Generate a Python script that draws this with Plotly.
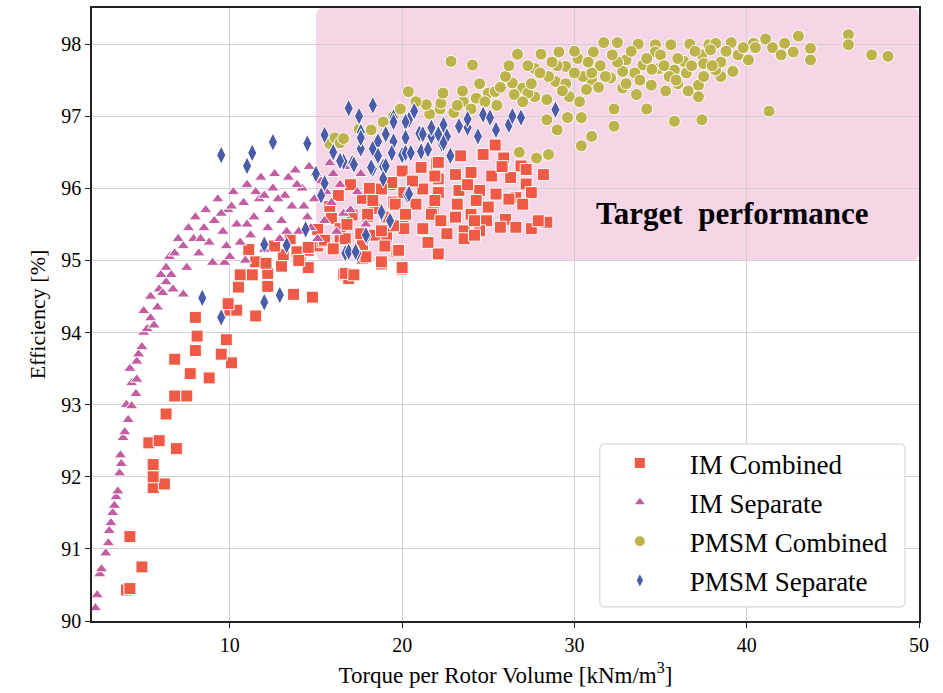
import plotly.graph_objects as go

# ---------------- data (x: torque per rotor volume, y: efficiency %) ----------------
IM_COMBINED = [
    (4.0, 90.43), (4.2, 90.45), (4.9, 90.75), (4.2, 91.17), (5.55, 91.85), (6.2, 91.9), (5.55, 92.0),
    (5.55, 92.17), (5.3, 92.47), (5.9, 92.5), (6.9, 92.39), (6.3, 92.87), (6.8, 93.12), (7.5, 93.12),
    (8.8, 93.37), (6.8, 93.63), (7.7, 93.43), (8.0, 93.75), (8.1, 93.95), (8.0, 94.21), (9.8, 93.9),
    (10.1, 93.58), (9.5, 93.7), (10.0, 94.31), (10.4, 94.31), (11.5, 94.23), (9.9, 94.4), (10.5, 94.63),
    (11.3, 94.8), (12.2, 94.82), (12.2, 94.64), (13.7, 94.53), (14.8, 94.49), (13.0, 94.92), (14.1, 94.99),
    (14.55, 95.14), (11.1, 95.15), (10.6, 94.8), (11.5, 94.98), (12.1, 94.96), (13.1, 95.08), (13.9, 95.12),
    (16.6, 94.8), (16.9, 94.75), (17.7, 95.03), (18.8, 94.95), (20.0, 94.88), (19.7, 95.12), (22.1, 95.08),
    (15.1, 95.2), (15.4, 95.26), (15.1, 95.43), (15.9, 95.58), (16.4, 95.3), (16.4, 95.44), (17.1, 95.63),
    (17.7, 95.22), (17.7, 95.86), (18.0, 95.61), (18.1, 96.0), (18.4, 95.35), (18.4, 95.72), (19.1, 95.33),
    (19.3, 96.05), (19.5, 95.81), (20.05, 95.47), (21.2, 95.43), (21.8, 95.67), (22.0, 96.34), (22.1, 96.13),
    (25.4, 96.6), (23.4, 96.45), (24.7, 96.47), (25.9, 96.42), (26.9, 96.31), (28.2, 96.19), (27.2, 96.26),
    (22.1, 96.36), (21.1, 96.29), (20.0, 96.24), (21.9, 96.17), (23.1, 96.19), (24.0, 96.22), (25.2, 96.17),
    (26.3, 96.15), (27.2, 96.06), (19.4, 96.08), (18.8, 95.99), (20.1, 95.94), (21.2, 95.99), (22.1, 95.94),
    (23.3, 95.97), (24.5, 95.97), (25.45, 95.92), (26.6, 95.87), (27.5, 95.94), (18.3, 95.83), (19.6, 95.78),
    (20.8, 95.78), (21.9, 95.83), (23.2, 95.78), (24.3, 95.83), (25.0, 95.74), (26.2, 95.85), (27.0, 95.78),
    (18.0, 95.64), (19.05, 95.6), (20.2, 95.64), (21.7, 95.64), (22.25, 95.55), (23.1, 95.6), (24.0, 95.64),
    (24.9, 95.55), (26.0, 95.57), (27.5, 95.44), (28.4, 95.53), (26.6, 95.46), (25.7, 95.46), (24.5, 95.41),
    (23.6, 95.41), (22.6, 95.37), (21.2, 95.44), (20.1, 95.44), (19.5, 95.48), (18.8, 95.41), (17.6, 95.37),
    (16.7, 95.3), (15.5, 95.28), (14.55, 95.18), (16.0, 95.16), (17.9, 95.05), (18.8, 94.98), (19.8, 95.14),
    (22.1, 95.09), (20.0, 94.9), (16.7, 94.82), (17.2, 94.8), (14.55, 94.9), (12.6, 95.2), (13.5, 95.3),
    (23.6, 95.3), (24.2, 95.35), (27.9, 95.55), (16.3, 95.9), (17.0, 96.05), (15.8, 95.75), (16.8, 95.5),
    (20.6, 96.1), (23.8, 96.05), (25.8, 96.3), (24.2, 95.55), (21.5, 95.25), (19.0, 95.2), (14.0, 95.0),
]

IM_SEPARATE = [
    (2.2, 90.18), (2.3, 90.36), (2.45, 90.65), (2.55, 90.72), (2.8, 90.94), (2.95, 91.08), (3.0, 91.25),
    (3.1, 91.36), (3.2, 91.5), (3.3, 91.6), (3.4, 91.72), (3.5, 91.8), (3.6, 92.05), (3.7, 92.18),
    (3.65, 92.3), (3.8, 92.54), (3.9, 92.62), (4.1, 92.79), (4.0, 93.0), (4.3, 92.98), (4.55, 93.15),
    (4.3, 93.3), (4.6, 93.35), (4.2, 93.5), (4.6, 93.6), (4.7, 93.7), (4.9, 93.8), (5.0, 94.0),
    (5.2, 94.05), (5.0, 94.3), (5.4, 94.2), (5.4, 94.5), (5.8, 94.35), (5.9, 94.6), (6.1, 94.55),
    (6.3, 94.7), (6.3, 94.9), (6.5, 95.05), (6.8, 95.1), (6.6, 94.8), (6.7, 94.6), (7.3, 94.53),
    (7.0, 95.3), (7.3, 95.2), (7.6, 95.45), (7.9, 95.3), (8.2, 95.1), (8.0, 95.6), (8.5, 95.45),
    (8.6, 95.7), (8.8, 95.25), (9.0, 94.97), (9.1, 95.55), (9.3, 95.85), (9.6, 95.4), (9.7, 94.97),
    (9.9, 95.7), (10.0, 95.05), (10.2, 95.95), (10.4, 95.5), (10.8, 95.8), (10.9, 95.0), (11.0, 96.05),
    (11.2, 95.35), (11.4, 95.6), (11.7, 95.85), (11.8, 96.15), (12.0, 95.15), (12.2, 95.45), (12.3, 95.7),
    (12.5, 96.0), (12.6, 96.2), (12.9, 95.3), (13.0, 95.55), (13.2, 95.9), (13.4, 96.15), (13.6, 95.75),
    (13.8, 96.25), (14.0, 95.4), (14.2, 96.0), (14.5, 95.6), (14.6, 96.3), (14.9, 95.85), (15.1, 95.3),
    (15.3, 96.1), (15.5, 95.55), (15.8, 96.35), (15.9, 95.8), (16.2, 95.4), (16.4, 96.05), (16.6, 95.65),
    (16.9, 96.3), (17.0, 95.7), (17.4, 95.95), (17.6, 96.2), (17.9, 95.5),
    (8.3, 95.3), (9.5, 95.65), (10.6, 95.25), (10.1, 95.75), (11.5, 95.95), (12.8, 95.85), (13.3, 95.4),
    (14.3, 95.75), (15.0, 96.2), (16.0, 96.2), (12.0, 95.9), (11.0, 95.5), (9.8, 95.2), (7.5, 94.9),
    (6.0, 94.8), (5.6, 94.1), (13.9, 96.05), (15.6, 95.95), (14.7, 95.45), (17.2, 96.35),
]

PMSM_COMBINED = [
    (15.8, 96.62), (16.1, 96.7), (16.4, 96.63), (16.6, 96.69), (17.5, 96.82), (18.2, 96.81), (18.9, 96.92),
    (19.5, 97.0), (20.36, 97.34), (21.6, 97.03), (22.2, 97.1), (21.4, 97.16), (22.25, 97.18), (22.37, 97.32),
    (23.55, 97.2), (24.3, 97.25), (25.0, 97.32), (25.4, 97.34), (22.84, 97.76), (24.08, 97.71), (26.7, 97.86),
    (28.06, 97.86), (29.1, 97.89), (31.7, 98.02), (32.5, 98.02), (33.7, 98.0), (34.7, 97.99), (35.6, 97.99),
    (36.7, 98.0), (37.8, 97.99), (38.2, 98.01), (39.1, 98.02), (40.4, 98.01), (41.1, 98.07), (42.2, 98.01),
    (43.0, 98.11), (43.7, 97.94), (45.9, 98.13), (45.9, 97.99), (47.25, 97.85), (48.2, 97.83), (42.7, 97.89),
    (43.7, 97.78), (40.1, 97.78), (39.2, 97.64), (38.5, 97.55), (37.2, 97.43), (37.2, 97.27), (41.3, 97.07),
    (37.4, 96.95), (35.8, 96.93), (34.2, 97.1), (32.3, 96.86), (32.3, 97.1), (31.0, 96.72), (30.4, 96.59),
    (29.6, 96.98), (29.0, 96.81), (28.4, 96.95), (28.5, 96.47), (27.8, 96.42), (30.4, 96.98),
    (26.4, 97.46), (27.0, 97.39), (27.7, 97.27), (27.7, 97.66), (28.9, 97.48), (29.5, 97.69), (30.2, 97.8),
    (31.1, 97.89), (31.0, 97.5), (32.1, 97.53), (32.8, 97.62), (33.0, 97.78), (33.98, 97.71), (34.46, 97.43),
    (34.9, 97.66), (35.8, 97.64), (36.35, 97.76), (37.4, 97.85), (37.5, 97.73), (38.2, 97.64), (39.2, 97.62),
    (36.0, 97.8), (32.8, 97.39), (30.7, 97.37), (29.7, 97.27), (28.4, 97.23), (27.3, 97.32), (37.9, 97.92),
    (34.7, 97.89), (23.0, 97.05), (24.0, 97.1), (25.5, 97.15), (26.5, 97.3), (27.5, 97.45), (28.5, 97.55),
    (29.5, 97.45), (30.5, 97.55), (31.5, 97.7), (32.5, 97.75), (33.5, 97.6), (34.5, 97.65), (35.5, 97.55),
    (36.5, 97.6), (37.5, 97.55), (38.5, 97.75), (39.5, 97.85), (40.5, 97.95), (30.0, 97.9), (31.0, 97.6),
    (33.0, 97.45), (35.0, 97.85), (36.0, 97.45), (28.0, 97.6), (29.0, 97.7), (26.0, 97.55), (27.0, 97.2),
    (24.5, 97.45), (23.5, 97.35), (20.8, 97.2), (19.9, 97.1), (26.8, 96.5),
    (30.0, 97.6), (30.8, 97.75), (31.8, 97.55), (32.2, 97.85), (33.3, 97.9), (33.8, 97.5), (34.2, 97.8),
    (35.2, 97.7), (35.9, 97.5), (36.8, 97.7), (37.0, 97.9), (38.0, 97.7), (38.8, 97.9), (39.8, 97.95),
    (41.5, 97.95), (42.0, 97.85), (29.3, 97.35), (28.7, 97.75), (27.3, 97.7), (26.2, 97.7), (25.7, 97.4),
    (24.8, 97.2), (23.2, 97.15), (33.6, 97.3), (35.3, 97.35), (31.4, 97.4), (30.3, 97.2), (36.6, 97.35),
]

PMSM_SEPARATE = [
    (8.4, 94.48), (9.5, 94.21), (9.5, 96.46), (11.0, 96.31), (11.3, 96.49), (12.5, 96.64), (14.5, 96.62),
    (15.5, 96.74), (16.9, 97.11), (18.3, 97.15), (17.5, 97.0), (19.5, 96.98), (20.4, 96.95), (20.7, 97.07),
    (12.0, 94.42), (12.9, 94.52), (12.0, 95.22), (13.3, 95.21), (16.7, 95.1), (17.4, 95.1), (17.95, 95.33),
    (18.8, 95.64), (19.3, 95.55), (20.3, 95.91), (16.6, 96.37), (17.1, 96.35), (17.6, 96.55), (18.3, 96.27),
    (18.9, 96.3), (19.5, 96.92), (20.2, 96.92), (21.0, 96.76), (21.7, 96.72), (22.3, 96.62), (20.0, 96.46),
    (21.1, 96.51), (18.3, 96.55), (17.6, 96.78), (18.6, 96.65), (14.4, 95.43), (15.5, 96.07), (17.6, 96.7),
    (19.05, 96.75), (19.5, 96.65), (20.2, 96.7), (21.2, 96.75), (21.7, 96.84), (22.4, 96.88), (22.1, 96.75),
    (22.6, 96.72), (23.3, 96.86), (23.8, 96.84), (24.4, 96.72), (24.7, 97.02), (25.1, 96.98), (25.45, 96.81),
    (26.2, 96.88), (26.4, 97.0), (26.9, 96.98), (28.9, 97.09), (18.6, 96.45), (19.4, 96.49), (20.2, 96.49),
    (16.4, 96.38), (17.2, 96.33), (18.2, 96.29), (19.05, 96.31), (20.5, 96.49), (21.5, 96.54), (22.4, 96.63),
    (22.8, 96.45), (18.9, 96.13), (20.4, 95.92), (18.8, 95.67), (19.3, 95.55), (17.9, 95.35), (16.9, 95.12),
    (17.3, 95.12), (15.0, 96.2), (16.0, 96.5), (15.3, 95.9), (23.8, 96.96),
]

SERIES_NAMES = ["IM Combined", "IM Separate", "PMSM Combined", "PMSM Separate"]
X_TICKS = [10, 20, 30, 40, 50]
Y_TICKS = [90, 91, 92, 93, 94, 95, 96, 97, 98]
X_RANGE = [2, 50]
Y_RANGE = [90, 98.5]
TARGET_X = [15, 50]
TARGET_Y = [95, 98.5]
TARGET_LABEL = "Target  performance"

# ---------------- styling ----------------
FONT = "Liberation Serif, Times New Roman, serif"
styles = [
    dict(symbol="square", color="#EE5A45", size=12),
    dict(symbol="triangle-up", color="#C45CA2", size=11),
    dict(symbol="circle", color="#BDB34B", size=12),
    dict(symbol="diamond-tall", color="#4A5BAA", size=13),
]

fig = go.Figure()
for name, data, st in zip(SERIES_NAMES, [IM_COMBINED, IM_SEPARATE, PMSM_COMBINED, PMSM_SEPARATE], styles):
    fig.add_trace(go.Scatter(
        x=[p[0] for p in data], y=[p[1] for p in data], mode="markers", name=name,
        legendgroup=name,
        marker=dict(symbol=st["symbol"], color=st["color"], size=st["size"],
                    line=dict(color="white", width=1)),
    ))


def rounded_path(xa, xb, ya, yb, rx, ry):
    return (f"M {xa+rx},{ya} L {xb-rx},{ya} Q {xb},{ya} {xb},{ya+ry} "
            f"L {xb},{yb-ry} Q {xb},{yb} {xb-rx},{yb} L {xa+rx},{yb} Q {xa},{yb} {xa},{yb-ry} "
            f"L {xa},{ya+ry} Q {xa},{ya} {xa+rx},{ya} Z")


# rounded target region (data coordinates)
fig.add_shape(type="path", path=rounded_path(TARGET_X[0], TARGET_X[1], TARGET_Y[0], TARGET_Y[1], 0.45, 0.11),
              xref="x", yref="y", layer="below", fillcolor="#F5D5E6", line=dict(width=0))

# legend frame (paper coordinates), drawn above the markers like a matplotlib legend box
LEG_X = [0.614, 0.983]
LEG_Y = [0.023, 0.289]
fig.add_shape(type="path", path=rounded_path(LEG_X[0], LEG_X[1], LEG_Y[0], LEG_Y[1], 0.007, 0.009),
              xref="paper", yref="paper", layer="above", fillcolor="rgba(255,255,255,0.92)",
              line=dict(color="#D6D6D6", width=1.2))

fig.add_annotation(x=39.2, y=95.65, xref="x", yref="y", text=f"<b>{TARGET_LABEL}</b>",
                   showarrow=False, font=dict(family=FONT, size=31, color="black"))

axis_common = dict(showline=True, linecolor="#222", linewidth=1.5, mirror=True,
                   showgrid=True, gridcolor="#D0D0D0", gridwidth=1, zeroline=False,
                   ticks="outside", ticklen=5, tickcolor="#222",
                   tickfont=dict(family=FONT, size=20, color="black"))

fig.update_xaxes(range=X_RANGE, tickvals=X_TICKS, **axis_common,
                 title=dict(text="Torque per Rotor Volume [kNm/m<sup>3</sup>]",
                            font=dict(family=FONT, size=23, color="black"), standoff=12))
fig.update_yaxes(range=Y_RANGE, tickvals=Y_TICKS, **axis_common,
                 title=dict(text="Efficiency [%]", font=dict(family=FONT, size=22, color="black"),
                            standoff=10))

fig.update_layout(
    width=943, height=693,
    margin=dict(l=92, r=24, t=6, b=72),
    plot_bgcolor="white", paper_bgcolor="white",
    showlegend=True,
    legend=dict(x=0.602, y=0.026, xanchor="left", yanchor="bottom",
                bgcolor="rgba(0,0,0,0)", borderwidth=0,
                font=dict(family=FONT, size=27, color="black"),
                tracegroupgap=1, itemsizing="constant", itemwidth=90),
)

fig.write_html("out.html")
